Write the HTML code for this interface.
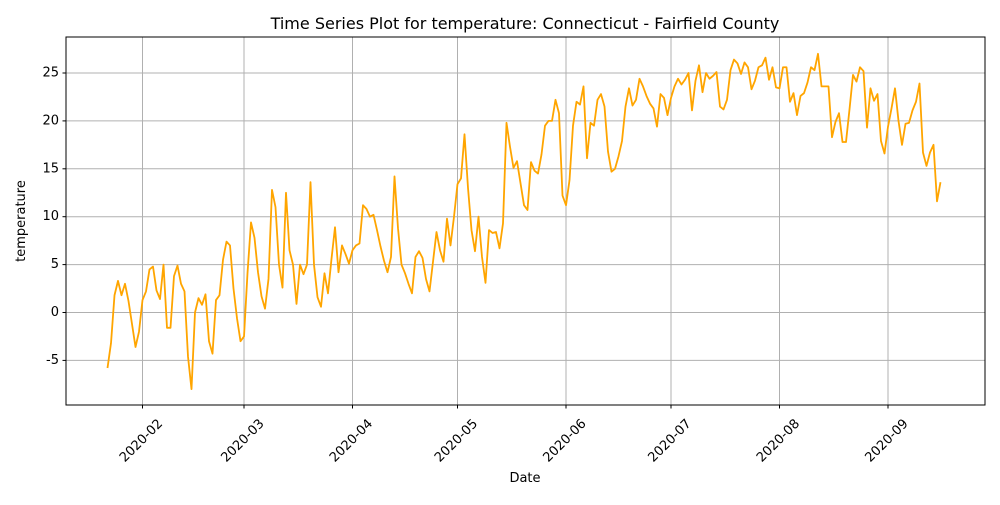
<!DOCTYPE html>
<html><head><meta charset="utf-8"><style>
body{margin:0;background:#fff;}
svg text{font-family:"DejaVu Sans","Liberation Sans",sans-serif;fill:#000;}
</style></head><body>
<svg id="chart" width="1000" height="500" viewBox="0 0 1000 500" xmlns="http://www.w3.org/2000/svg">
<rect x="0" y="0" width="1000" height="500" fill="#fff"/>
<g id="grid"></g>
<g id="series"></g>
<rect x="66" y="37" width="919" height="368" fill="none" stroke="#000" stroke-width="1"/>
<g id="xticks"></g>
<g id="yticks"></g>
<text x="525" y="29" text-anchor="middle" font-size="16">Time Series Plot for temperature: Connecticut - Fairfield County</text>
<text x="525" y="482" text-anchor="middle" font-size="13">Date</text>
<text x="0" y="0" transform="translate(25,221) rotate(-90)" text-anchor="middle" font-size="13">temperature</text>
</svg>
<script>
const startDate = "2020-01-22";
const temperature = [
-5.8,-3.2,1.8,3.3,1.8,3.0,1.2,-1.2,-3.6,-2.0,
1.3,2.2,4.5,4.8,2.3,1.4,5.0,-1.6,-1.6,3.8,
4.9,3.0,2.2,-4.6,-8.0,0.0,1.5,0.8,1.9,-3.0,
-4.3,1.3,1.8,5.5,7.4,7.0,2.5,-0.6,-3.0,-2.5,
4.1,9.4,7.8,4.2,1.7,0.4,3.5,12.8,11.0,5.0,
2.6,12.5,6.5,5.0,0.9,5.0,4.0,5.0,13.6,5.0,
1.6,0.6,4.1,2.0,5.6,8.9,4.2,7.0,6.1,5.1,
6.5,7.0,7.2,11.2,10.8,10.0,10.2,8.6,6.9,5.4,
4.2,5.8,14.2,8.8,5.0,4.1,3.0,2.0,5.8,6.4,
5.7,3.5,2.2,5.3,8.4,6.5,5.3,9.8,7.0,10.0,
13.4,14.0,18.6,13.0,8.6,6.4,10.0,5.8,3.1,8.6,
8.3,8.4,6.7,9.3,19.8,17.3,15.1,15.8,13.5,11.2,
10.7,15.7,14.8,14.5,16.5,19.5,20.0,20.0,22.2,20.8,
12.2,11.2,13.8,19.5,22.0,21.7,23.6,16.1,19.8,19.5,
22.2,22.8,21.5,16.8,14.7,15.0,16.3,17.9,21.5,23.4,
21.6,22.2,24.4,23.6,22.6,21.8,21.3,19.4,22.8,22.4,
20.6,22.4,23.6,24.4,23.8,24.3,25.0,21.1,24.2,25.8,
23.0,25.0,24.4,24.7,25.1,21.5,21.2,22.2,25.3,26.4,
26.0,24.9,26.1,25.6,23.3,24.2,25.6,25.8,26.6,24.3,
25.6,23.5,23.4,25.6,25.6,22.0,22.9,20.6,22.6,22.9,
24.0,25.6,25.3,27.0,23.6,23.6,23.6,18.3,19.9,20.8,
17.8,17.8,21.2,24.8,24.1,25.6,25.2,19.3,23.4,22.1,
22.8,17.9,16.6,19.4,21.3,23.4,20.0,17.5,19.7,19.8,
21.1,22.0,23.9,16.7,15.3,16.7,17.5,11.6,13.6
];
const xTickDates = ["2020-02-01","2020-03-01","2020-04-01","2020-05-01","2020-06-01","2020-07-01","2020-08-01","2020-09-01"];
const xTickLabels = ["2020-02","2020-03","2020-04","2020-05","2020-06","2020-07","2020-08","2020-09"];
const yTicks = [-5,0,5,10,15,20,25];

const NS="http://www.w3.org/2000/svg";
const DAY=86400000;
const ref=Date.UTC(2020,1,1);
function parseD(s){const p=s.split('-');return Date.UTC(+p[0],+p[1]-1,+p[2]);}
function xScale(t){return 142.5+(t-ref)/DAY*3.5;}
function yScale(v){return 312.5-v*9.58;}
function mk(tag,attrs,parent){const e=document.createElementNS(NS,tag);for(const k in attrs)e.setAttribute(k,attrs[k]);parent.appendChild(e);return e;}
const grid=document.getElementById('grid'),xt=document.getElementById('xticks'),yt=document.getElementById('yticks'),ser=document.getElementById('series');
xTickDates.forEach((d,i)=>{
  const x=xScale(parseD(d));
  const g=mk('line',{x1:x,x2:x,y1:37,y2:405,stroke:'#b0b0b0','stroke-width':1},grid);
  
  
  const t=mk('line',{x1:x,x2:x,y1:405,y2:408.5,stroke:'#000','stroke-width':1},xt);
  
  
  const tx=mk('text',{x:0,y:0,transform:`translate(${x-1},441) rotate(-45)`,'text-anchor':'middle','dominant-baseline':'central','font-size':13},xt);
  tx.textContent=xTickLabels[i];
  
  
});
yTicks.forEach(v=>{
  const y=yScale(v);
  const g=mk('line',{x1:66,x2:985,y1:y,y2:y,stroke:'#b0b0b0','stroke-width':1},grid);
  
  
  const t=mk('line',{x1:62.5,x2:66,y1:y,y2:y,stroke:'#000','stroke-width':1},yt);
  
  
  const tx=mk('text',{x:59,y:y,'text-anchor':'end','dominant-baseline':'central','font-size':13},yt);
  tx.textContent=String(v);
  
  
});
const s0=parseD(startDate);
const pts=temperature.map((v,i)=>xScale(s0+i*DAY).toFixed(2)+','+yScale(v).toFixed(2)).join(' ');
const line=mk('polyline',{points:pts,fill:'none',stroke:'#ffa500','stroke-width':1.8,'stroke-linejoin':'round'},ser);


</script>
</body></html>
